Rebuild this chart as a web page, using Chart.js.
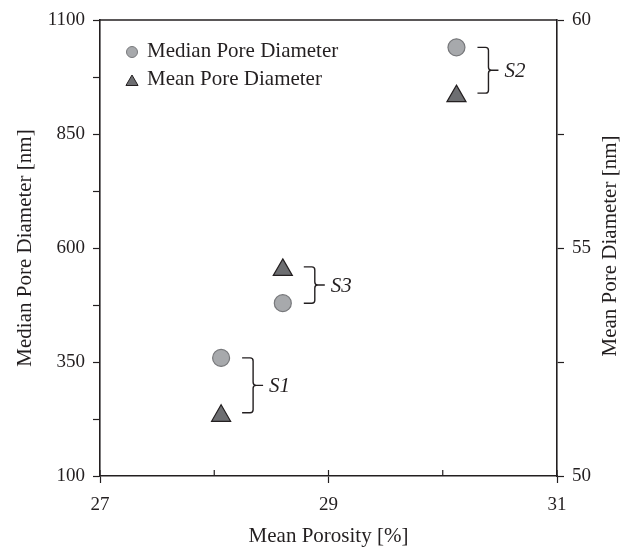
<!DOCTYPE html>
<html><head><meta charset="utf-8">
<script src="https://cdn.jsdelivr.net/npm/chart.js@4.4.1/dist/chart.umd.min.js"></script>
<style>html,body{margin:0;padding:0;background:#fff;}</style>
</head><body>
<canvas id="c" width="620" height="550" style="width:620px;height:550px;display:block"></canvas>
<script>
// ---- data ----
const sampleNames = ['S1', 'S2', 'S3'];
const meanPorosity = [28.06, 30.12, 28.60];          // x, %
const medianPoreDiameter = [359, 1040, 479];         // left axis, nm
const meanPoreDiameter = [51.32, 58.33, 54.52];      // right axis, nm
const xTickLabels = [27, 29, 31];
const yLeftTickLabels = [100, 350, 600, 850, 1100];
const yRightTickLabels = [50, 55, 60];
const seriesNames = ['Median Pore Diameter', 'Mean Pore Diameter'];
const axisTitles = {x: 'Mean Porosity [%]', y: 'Median Pore Diameter [nm]', y1: 'Mean Pore Diameter [nm]'};

const INK = '#231f20';
const SERIF = "'Liberation Serif', 'Times New Roman', serif";
const circleFill = '#a7a9ac', circleStroke = '#77787b';
const triFill = '#6d6e71', triStroke = '#231f20';

const medianPts = meanPorosity.map((x, i) => ({x, y: medianPoreDiameter[i]}));
const meanPts = meanPorosity.map((x, i) => ({x, y: meanPoreDiameter[i]}));

const framePlugin = {
  id: 'frame',
  afterDraw(chart) {
    const {ctx, chartArea: a, scales} = chart;
    ctx.save();
    ctx.strokeStyle = INK;
    ctx.lineWidth = 1.6;
    ctx.beginPath(); ctx.moveTo(a.left, a.top); ctx.lineTo(a.right, a.top); ctx.stroke();
    ctx.lineWidth = 1.2;
    for (let v = 27; v <= 31; v += 1) {
      const px = scales.x.getPixelForValue(v);
      ctx.beginPath(); ctx.moveTo(px, a.bottom); ctx.lineTo(px, a.bottom - 6); ctx.stroke();
    }
    ctx.save();
    ctx.fillStyle = INK;
    ctx.font = "21px " + SERIF;
    ctx.textAlign = 'center'; ctx.textBaseline = 'middle';
    ctx.translate(chart.width - 10, (a.top + a.bottom) / 2 - 2);
    ctx.rotate(-Math.PI / 2);
    ctx.fillText(axisTitles.y1, 0, 0);
    ctx.restore();
    ctx.strokeStyle = INK;
    ctx.lineWidth = 1.4;
    for (let i = 0; i < sampleNames.length; i++) {
      const px = scales.x.getPixelForValue(meanPorosity[i]);
      const yA = scales.y.getPixelForValue(medianPoreDiameter[i]);
      const yB = scales.y1.getPixelForValue(meanPoreDiameter[i]) - 3;
      const top = Math.min(yA, yB), bot = Math.max(yA, yB), mid = (top + bot) / 2;
      const x0 = px + 21, xv = px + 32, xt = px + 42, r = 3;
      ctx.beginPath();
      ctx.moveTo(x0, top); ctx.lineTo(xv - r, top); ctx.quadraticCurveTo(xv, top, xv, top + r);
      ctx.lineTo(xv, mid - r); ctx.quadraticCurveTo(xv, mid, xv + r, mid); ctx.lineTo(xt, mid);
      ctx.moveTo(xv + r, mid); ctx.quadraticCurveTo(xv, mid, xv, mid + r);
      ctx.lineTo(xv, bot - r); ctx.quadraticCurveTo(xv, bot, xv - r, bot); ctx.lineTo(x0, bot);
      ctx.stroke();
      ctx.fillStyle = INK;
      ctx.font = "italic 21px " + SERIF;
      ctx.textAlign = 'left'; ctx.textBaseline = 'middle';
      ctx.fillText(sampleNames[i], px + 48, mid + 1);
    }
    const lx = a.left + 32;
    const rows = [a.top + 32, a.top + 60];
    const styles = [
      {pointStyle: 'circle', radius: 5.5, borderWidth: 1, fill: circleFill, stroke: circleStroke},
      {pointStyle: 'triangle', radius: 7, borderWidth: 1, fill: triFill, stroke: triStroke}
    ];
    for (let k = 0; k < 2; k++) {
      const s = styles[k];
      ctx.fillStyle = s.fill; ctx.strokeStyle = s.stroke; ctx.lineWidth = s.borderWidth;
      Chart.helpers.drawPoint(ctx, {pointStyle: s.pointStyle, radius: s.radius, rotation: 0, borderWidth: s.borderWidth}, lx, rows[k] + (k === 1 ? 2 : 0));
      ctx.fillStyle = INK;
      ctx.font = "21px " + SERIF;
      ctx.textAlign = 'left'; ctx.textBaseline = 'middle';
      ctx.fillText(seriesNames[k], lx + 15, rows[k] - 1);
    }
    ctx.restore();
  }
};

const tickFont = {family: SERIF, size: 19};
const titleFont = {family: SERIF, size: 21, lineHeight: 1};

new Chart(document.getElementById('c'), {
  type: 'scatter',
  data: {
    datasets: [
      {label: seriesNames[0], data: medianPts, yAxisID: 'y', pointStyle: 'circle', pointRadius: 8.5,
       pointHoverRadius: 8.5, backgroundColor: circleFill, borderColor: circleStroke, borderWidth: 1.2},
      {label: seriesNames[1], data: meanPts, yAxisID: 'y1', pointStyle: 'triangle', pointRadius: 11,
       pointHoverRadius: 11, backgroundColor: triFill, borderColor: triStroke, borderWidth: 1.2}
    ]
  },
  options: {
    responsive: false,
    animation: false,
    devicePixelRatio: 1,
    layout: {padding: {top: 20, left: 0, right: 0, bottom: 0}},
    plugins: {legend: {display: false}, tooltip: {enabled: false}},
    scales: {
      x: {
        type: 'linear', min: 27, max: 31,
        ticks: {stepSize: 1, color: INK, font: tickFont, padding: 11, maxRotation: 0,
                callback: v => xTickLabels.includes(v) ? String(v) : ''},
        grid: {drawOnChartArea: false, tickLength: 7, tickWidth: 1.2,
               tickColor: c => xTickLabels.includes(c.tick && c.tick.value) ? INK : 'rgba(0,0,0,0)'},
        border: {color: INK, width: 1.6},
        title: {display: true, text: axisTitles.x, color: INK, font: titleFont, padding: {top: 8, bottom: 3}},
        afterFit: s => { s.height = 74; }
      },
      y: {
        type: 'linear', position: 'left', min: 100, max: 1100,
        ticks: {stepSize: 125, color: INK, font: tickFont, padding: 8,
                callback: v => yLeftTickLabels.includes(v) ? String(v) : ''},
        grid: {drawOnChartArea: false, tickLength: 7, tickWidth: 1.2, tickColor: INK},
        border: {color: INK, width: 1.6},
        title: {display: true, text: axisTitles.y, color: INK, font: titleFont, padding: {top: 15, bottom: 0}},
        afterFit: s => { s.width = 100; }
      },
      y1: {
        type: 'linear', position: 'right', min: 50, max: 60,
        ticks: {stepSize: 2.5, color: INK, font: tickFont, padding: 8,
                callback: v => yRightTickLabels.includes(v) ? String(v) : ''},
        grid: {drawOnChartArea: false, tickLength: 7, tickWidth: 1.2, tickColor: INK},
        border: {color: INK, width: 1.6},
        title: {display: false, text: axisTitles.y1},
        afterFit: s => { s.width = 63; }
      }
    }
  },
  plugins: [framePlugin]
});
</script>
</body></html>
